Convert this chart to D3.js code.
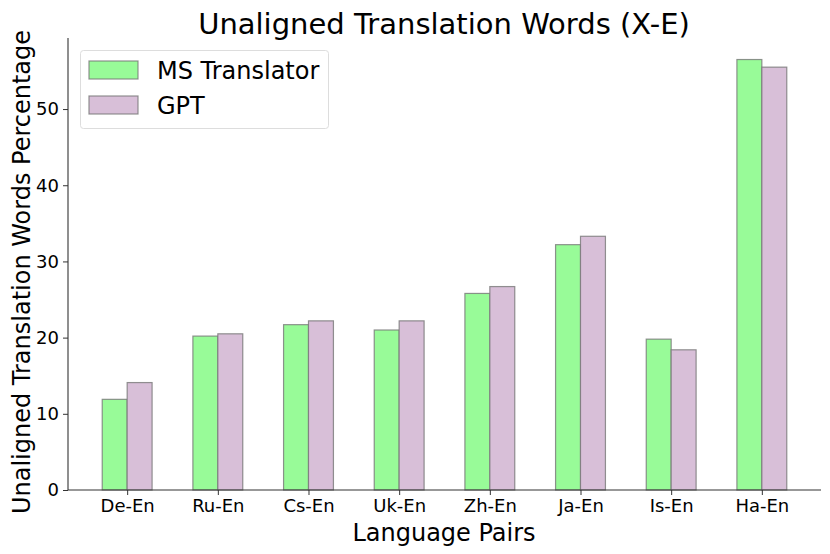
<!DOCTYPE html>
<html><head><meta charset="utf-8">
<script src="https://cdn.jsdelivr.net/npm/d3@7"></script>
<style>body{margin:0;background:#fff;} svg{display:block;font-family:"DejaVu Sans",sans-serif;}</style>
</head><body>
<svg id="c" width="830" height="554"></svg>
<script>
const categories = ["De-En","Ru-En","Cs-En","Uk-En","Zh-En","Ja-En","Is-En","Ha-En"];
const msValues  = [11.9, 20.2, 21.7, 21.0, 25.8, 32.2, 19.8, 56.5];
const gptValues = [14.1, 20.5, 22.2, 22.2, 26.7, 33.3, 18.4, 55.5];
const seriesNames = ["MS Translator","GPT"];
const seriesColors = ["#98FB98","#D8BFD8"];
const yTicks = [0,10,20,30,40,50];

const svg = d3.select("#c");
const L = 68, R = 821, T = 38, B = 490;
const bw = 0.275;
const n = categories.length;
const pad = (n - 1 + 2*bw) * 0.05;
const x = d3.scaleLinear().domain([-bw - pad, n - 1 + bw + pad]).range([L, R]);
const yMax = d3.max([...msValues, ...gptValues]) * 1.05;
const y = d3.scaleLinear().domain([0, yMax]).range([B, T]);

const series = [msValues, gptValues];
series.forEach((vals, s) => {
  svg.append("g").selectAll("rect").data(vals).join("rect")
    .attr("x", (d,i) => s === 0 ? x(i - bw) : x(i))
    .attr("width", x(bw) - x(0))
    .attr("y", d => y(d))
    .attr("height", d => y(0) - y(d))
    .attr("fill", seriesColors[s])
    .attr("stroke", "#777")
    .attr("stroke-opacity", 0.8)
    .attr("stroke-width", 1.2);
});

// axes
const yAxis = d3.axisLeft(y).tickValues(yTicks).tickSize(5).tickPadding(4);
const gy = svg.append("g").attr("transform", `translate(${L},0)`).call(yAxis);
gy.select(".domain").attr("d", `M0,${B}V${T}`).attr("stroke","#333").attr("stroke-width",1.1);
gy.selectAll(".tick line").attr("stroke","#333");
gy.selectAll(".tick text").attr("font-size", 18).attr("fill","#000").attr("font-family","DejaVu Sans");

const xAxis = d3.axisBottom(x).tickValues(d3.range(n)).tickFormat(i => categories[i]).tickSize(5).tickPadding(4);
const gx = svg.append("g").attr("transform", `translate(0,${B})`).call(xAxis);
gx.select(".domain").attr("d", `M${L},0H${R}`).attr("stroke","#333").attr("stroke-width",1.1);
gx.selectAll(".tick line").attr("stroke","#333");
gx.selectAll(".tick text").attr("font-size", 18).attr("fill","#000").attr("font-family","DejaVu Sans");

// title and labels
svg.append("text").attr("x", 444).attr("y", 34).attr("text-anchor","middle")
  .attr("font-size", 29).text("Unaligned Translation Words (X-E)");
svg.append("text").attr("x", 444).attr("y", 541).attr("text-anchor","middle")
  .attr("font-size", 24).text("Language Pairs");
svg.append("text").attr("transform", `translate(30,${(T+B)/2 + 8}) rotate(-90)`).attr("text-anchor","middle")
  .attr("font-size", 24).text("Unaligned Translation Words Percentage");

// legend
const lg = svg.append("g");
lg.append("rect").attr("x", 80.5).attr("y", 50.5).attr("width", 248).attr("height", 78).attr("rx", 3)
  .attr("fill","#fff").attr("fill-opacity",0.8).attr("stroke","#ddd");
seriesNames.forEach((name, s) => {
  const cy = 70 + s*35;
  lg.append("rect").attr("x", 89).attr("y", cy - 9).attr("width", 49).attr("height", 18)
    .attr("fill", seriesColors[s]).attr("stroke","#777").attr("stroke-opacity",0.8).attr("stroke-width",1.2);
  lg.append("text").attr("x", 157).attr("y", cy).attr("dy","0.36em").attr("font-size", 24).text(name);
});
</script>
</body></html>
